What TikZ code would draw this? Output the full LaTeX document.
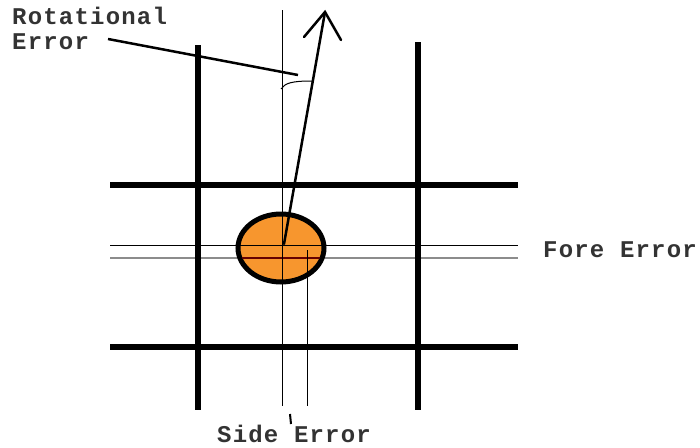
\documentclass[tikz,border=0pt]{standalone}
\usepackage{fontspec}
\setmonofont{Liberation Mono}[LetterSpace=5]
\usetikzlibrary{shapes.geometric}
\definecolor{ballorange}{HTML}{F7962E}
\definecolor{txtgray}{HTML}{333333}
\begin{document}
\begin{tikzpicture}[x=1pt,y=-1pt,
  thickbar/.style={line width=6pt,black},
  thinline/.style={line width=1pt,black},
  grayline/.style={line width=2pt,black!45},
  lbl/.style={inner sep=0pt,anchor=base west,text=txtgray,font=\ttfamily\bfseries\fontsize{24}{24}\selectfont}]
\useasboundingbox (0,0) rectangle (700,447);
% thin guide lines
\draw[thinline] (282,10) -- (282,406);
\draw[thinline] (307,250) -- (307,406);
\draw[thinline] (110,245) -- (518,245);
\draw[grayline] (110,258) -- (518,258);
% thick grid
\draw[thickbar] (198,45) -- (198,410);
\draw[thickbar] (418,42) -- (418,410);
\draw[thickbar] (110,185) -- (518,185);
\draw[thickbar] (110,347) -- (518,347);
% ball
\node[ellipse,draw=black,line width=5pt,fill=ballorange,minimum width=86pt,minimum height=68pt,inner sep=0pt] (ball) at (281,248) {};
\begin{scope}
\clip (281,248) ellipse (41pt and 32pt);
\draw[thinline] (110,245) -- (518,245);
\draw[line width=2pt,black!60!red] (110,258) -- (518,258);
\draw[thinline] (282,200) -- (282,300);
\draw[thinline] (307,250) -- (307,300);
\end{scope}
% arrow
\coordinate (tail) at (284,244);
\coordinate (tip) at (325,12);
\draw[line width=2.5pt,line cap=round] (tail) -- (tip);
\draw[line width=2.5pt,line cap=round] (304,37) -- (tip) -- (341,40);
% angle arc
\draw[line width=1pt] (281,89) .. controls (285,83) and (292,81) .. (312,81);
% labels
\node[lbl] (rot) at (12,24) {Rotational};
\node[lbl] (rot2) at (12,49) {Error};
\coordinate (ptr) at (298,75);
\draw[line width=2.5pt] (108,39) -- (ptr);
\node[lbl] (fore) at (543,257) {Fore Error};
\node[lbl] (side) at (217,442) {Side Error};
\draw[line width=2pt] (290,414) -- (291,424);
\end{tikzpicture}
\end{document}
